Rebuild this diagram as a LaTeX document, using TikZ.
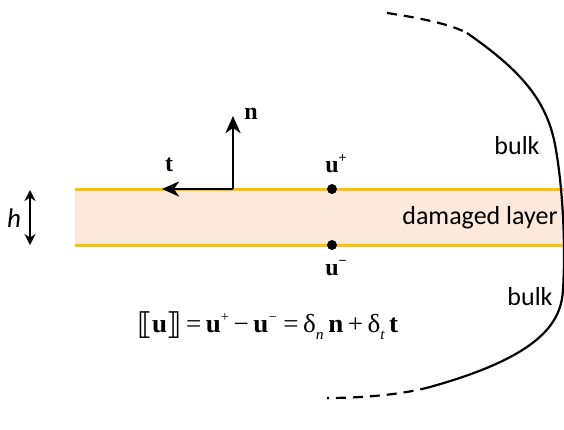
\documentclass[tikz,border=0pt]{standalone}
\usepackage{fontspec}
\newfontfamily\calib{Carlito}
\newfontfamily\tms{Liberation Serif}
\newfontfamily\djv{DejaVu Sans}
\usetikzlibrary{arrows.meta}
\definecolor{layerfill}{HTML}{FCE9DC}
\definecolor{layerline}{HTML}{FFC000}
\newcommand{\mysup}[1]{\raisebox{0.42em}{\fontsize{14}{14}\selectfont #1}}
\newcommand{\mysub}[1]{\raisebox{-0.28em}{\fontsize{15}{15}\selectfont\itshape #1}}
\newcommand{\mybr}[1]{\raisebox{-0.1em}{\djv\fontsize{30}{30}\selectfont #1}}
\begin{document}
\begin{tikzpicture}[x=1pt,y=-1pt,
  vec/.style={line width=2.8pt,-{Stealth[length=17pt,width=15pt,inset=5pt]}},
  lbl/.style={font=\calib\fontsize{26}{28}\selectfont,inner sep=0pt},
  sym/.style={font=\tms\bfseries\fontsize{24}{26}\selectfont,inner sep=0pt},
  dotn/.style={circle,fill=black,inner sep=0pt,minimum size=10pt}]
\useasboundingbox (0,0) rectangle (564,429);
% layer
\fill[layerfill] (75,189) rectangle (564,245);
\draw[layerline,line width=3pt] (75,189) -- (564,189);
\draw[layerline,line width=3pt] (75,245) -- (564,245);
% h arrow
\coordinate (ht) at (30,190);
\coordinate (hb) at (30,245);
\draw[line width=2.4pt,{Stealth[length=11pt,width=11pt]}-{Stealth[length=11pt,width=11pt]}] (ht) -- (hb);
\node[font=\calib\itshape\fontsize{27}{28}\selectfont,inner sep=0pt] (h) at (14,218) {h};
% axes
\coordinate (o) at (233,189);
\coordinate (ntip) at (233,116);
\coordinate (ttip) at (162,189);
\draw[vec] (o) -- (ntip);
\draw[vec] (o) -- (ttip);
\node[sym] (n) at (251,114) {n};
\node[sym] (t) at (169,165) {t};
% points
\node[dotn] (up) at (332,189) {};
\node[dotn] (um) at (332,245) {};
\node[sym] (upl) at (336,164) {u\mysup{+}};
\node[sym] (uml) at (336,268) {u\mysup{−}};
% texts
\node[lbl] (bulk1) at (517,146) {bulk};
\node[lbl] (bulk2) at (530,297) {bulk};
\node[lbl] (dl) at (480,218) {damaged layer};
\node[font=\tms\fontsize{26}{28}\selectfont,inner sep=0pt] (eq) at (268,326)
 {\scalebox{1.04}[1]{\mybr{⟦}\kern-1pt\textbf{u}\kern-1pt\mybr{⟧}\,=\,\textbf{u}\mysup{+}\,−\,\textbf{u}\mysup{−}\ =\,δ\mysub{n}\,\textbf{n}\,+\,δ\mysub{t}\,\textbf{t}}};
% boundary
\coordinate (a0) at (387,13);
\coordinate (a1) at (467,33);
\coordinate (b1) at (430,387);
\coordinate (b0) at (327,398);
\draw[line width=2.2pt,dash pattern=on 10pt off 7pt] (a0) .. controls (420,18) and (450,24) .. (a1);
\draw[line width=2.2pt] (a1) .. controls (520,70) and (548,100) .. (556,150)
  .. controls (562,185) and (566,240) .. (563,290)
  .. controls (561,320) and (545,355) .. (b1);
\draw[line width=2.2pt,dash pattern=on 10pt off 7pt] (b1) .. controls (400,395) and (360,398) .. (b0);
\end{tikzpicture}
\end{document}
